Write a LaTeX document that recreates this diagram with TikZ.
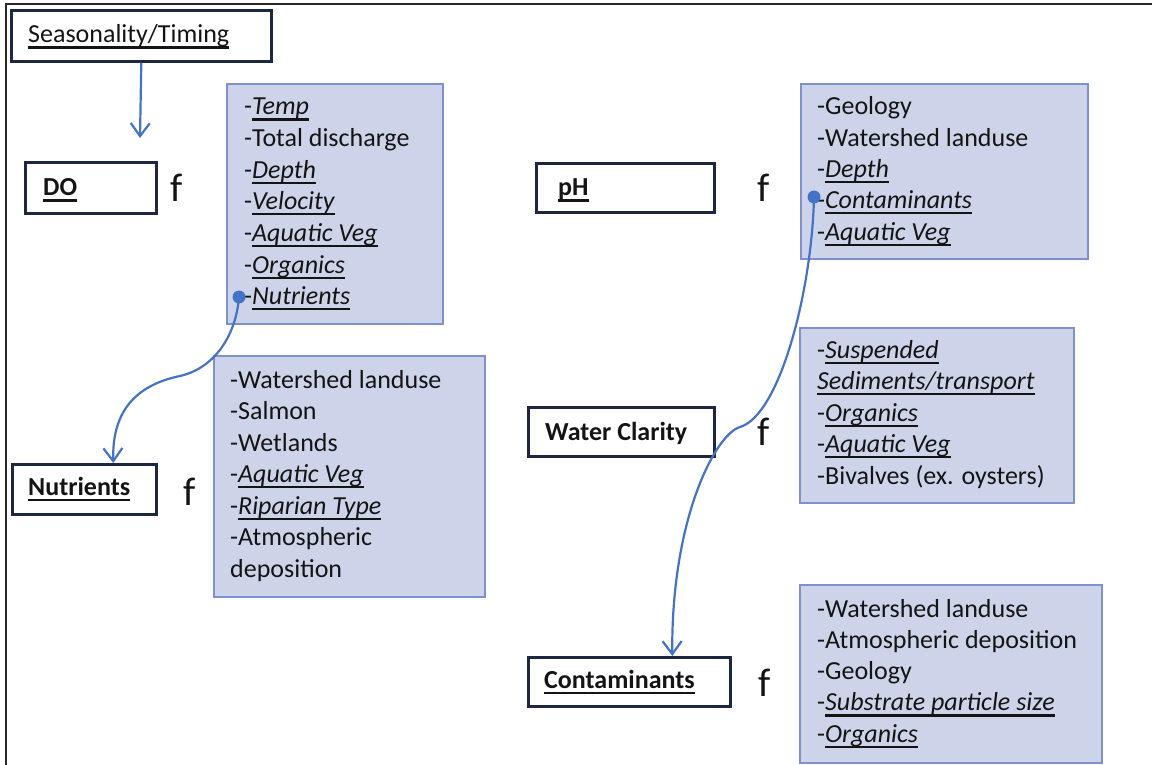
\documentclass[tikz,border=0pt]{standalone}
\usepackage{fontspec}
\setmainfont{Carlito}
\usetikzlibrary{arrows.meta}
\newsavebox\myulbox
\newcommand\myul[1]{\sbox\myulbox{#1}\rlap{\rule[-5.6pt]{\wd\myulbox}{2.1pt}}\usebox\myulbox}
\newcommand\iu[1]{\myul{\textit{#1}}}
\definecolor{boxfill}{RGB}{205,212,234}
\definecolor{boxline}{RGB}{128,144,204}
\definecolor{labline}{RGB}{30,38,64}
\definecolor{connblue}{RGB}{68,114,196}
\definecolor{ink}{RGB}{20,20,20}
\definecolor{framecol}{RGB}{40,40,40}
\tikzset{
  bluebox/.style={draw=boxline, fill=boxfill, line width=2pt, inner sep=0pt, anchor=north west},
  labbox/.style={draw=labline, fill=white, line width=2.6pt, inner sep=0pt, anchor=north west},
  txt/.style={font=\fontsize{26}{31.6}\selectfont, text=ink, inner sep=0pt, anchor=base west},
  labtxt/.style={txt, font=\fontsize{26}{31.6}\selectfont\bfseries},
  ftxt/.style={font=\fontsize{40}{48}\selectfont, text=ink, inner sep=0pt, anchor=base west},
  conn/.style={draw=connblue, line width=2.2pt},
  arr/.style={-{Straight Barb[length=13pt,width=19pt,line width=2.2pt]}},
}
\begin{document}
\begin{tikzpicture}[x=1pt,y=-1pt]
\useasboundingbox (0,0) rectangle (1152,765);
% outer frame
\draw[framecol, line width=2.6pt] (6,766) -- (6,4) -- (1153,4);

% ---------- Seasonality ----------
\node[labbox, minimum width=260, minimum height=51] (seas) at (10,9) {};
\node[txt] (seastxt) at (28,43) {\myul{Seasonality/Timing}};
\coordinate (seasend) at (140,138);
\draw[conn, arr] (seas.south) -- (seasend);

% ---------- DO ----------
\node[labbox, minimum width=131, minimum height=51] (do) at (24,161) {};
\node[labtxt] (dotxt) at (43,196) {\myul{DO}};
\node[ftxt] (fdo) at (170,202) {f};
\node[bluebox, minimum width=216, minimum height=240] (dobox) at (226,83) {};
\foreach \t [count=\i] in {{-\iu{Temp}},{-Total discharge},{-\iu{Depth}},{-\iu{Velocity}},{-\iu{Aquatic Veg}},{-\iu{Organics}},{-\iu{Nutrients}}}
  \node[txt] (do\i) at (244,{115+31.6*(\i-1)}) {\t};

% ---------- Nutrients ----------
\node[labbox, minimum width=144, minimum height=50] (nut) at (11,463) {};
\node[labtxt] (nuttxt) at (28,495) {\myul{Nutrients}};
\node[ftxt] (fnut) at (183,505) {f};
\node[bluebox, minimum width=271, minimum height=241] (nutbox) at (213,355) {};
\foreach \t [count=\i] in {{-Watershed landuse},{-Salmon},{-Wetlands},{-\iu{Aquatic Veg}},{-\iu{Riparian Type}},{-Atmospheric},{deposition}}
  \node[txt] (nut\i) at (230,{388+31.5*(\i-1)}) {\t};

% ---------- pH ----------
\node[labbox, minimum width=178, minimum height=49] (ph) at (535,162) {};
\node[labtxt] (phtxt) at (558,196) {\myul{pH}};
\node[ftxt] (fph) at (757,202) {f};
\node[bluebox, minimum width=287, minimum height=175] (phbox) at (800,83) {};
\foreach \t [count=\i] in {{-Geology},{-Watershed landuse},{-\iu{Depth}},{-\iu{Contaminants}},{-\iu{Aquatic Veg}}}
  \node[txt] (ph\i) at (817,{115+31.3*(\i-1)}) {\t};

% ---------- Water Clarity ----------
\node[labbox, minimum width=186, minimum height=49] (wc) at (527,406) {};
\node[labtxt] (wctxt) at (545,440) {Water Clarity};
\node[ftxt] (fwc) at (757,445) {f};
\node[bluebox, minimum width=274, minimum height=175] (wcbox) at (799,327) {};
\foreach \t [count=\i] in {{-\iu{Suspended}},{\iu{Sediments/transport}},{-\iu{Organics}},{-\iu{Aquatic Veg}},{-Bivalves (ex. oysters)}}
  \node[txt] (wc\i) at (817,{358+31.5*(\i-1)}) {\t};

% ---------- Contaminants ----------
\node[labbox, minimum width=202, minimum height=49] (cont) at (527,656) {};
\node[labtxt] (conttxt) at (544,688) {\myul{Contaminants}};
\node[ftxt] (fcont) at (758,696) {f};
\node[bluebox, minimum width=302, minimum height=178] (contbox) at (799,584) {};
\foreach \t [count=\i] in {{-Watershed landuse},{-Atmospheric deposition},{-Geology},{-\iu{Substrate particle size}},{-\iu{Organics}}}
  \node[txt] (cont\i) at (817,{617+31.3*(\i-1)}) {\t};

% ---------- connectors ----------
\coordinate (dot1) at (239,297);
\coordinate (dot2) at (814,197);
\draw[conn, arr] (dot1) .. controls (236,335) and (215,368) .. (180,376)
      .. controls (132,386) and (112,415) .. ([xshift=29pt]nut.north);
\fill[connblue] (dot1) circle (6.5);
\draw[conn, arr] (dot2) .. controls (812,290) and (780,415) .. (740,427)
      .. controls (715,434.5) and (671,520) .. ([xshift=43pt]cont.north);
\fill[connblue] (dot2) circle (6.5);
\end{tikzpicture}
\end{document}
